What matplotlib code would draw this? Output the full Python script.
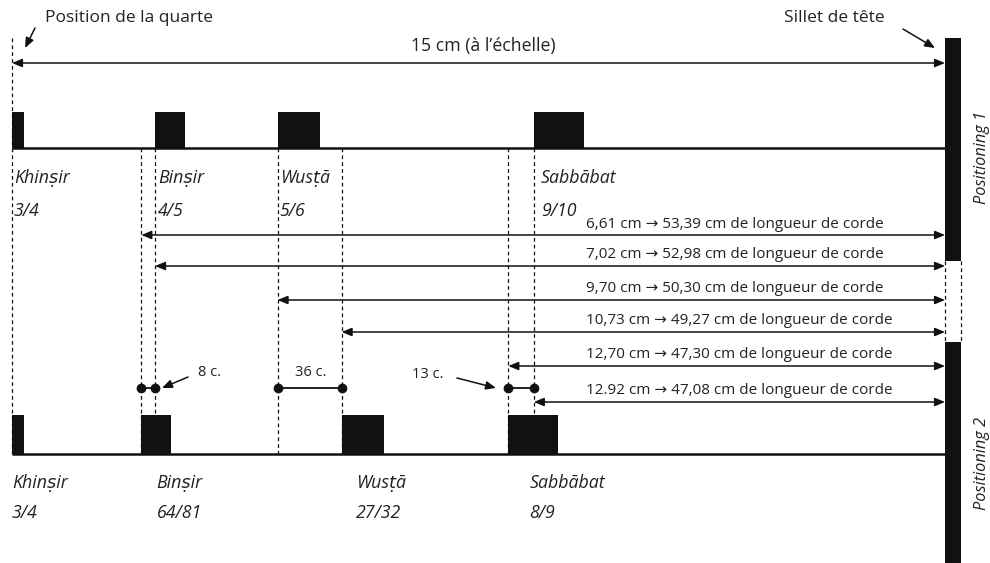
import matplotlib
matplotlib.use("Agg")
import matplotlib.pyplot as plt
from matplotlib.patches import Rectangle

# ---------------- data ----------------
scale_cm = 15.0                      # quarte position, measured from the nut
fret_names = ["Khinṣir", "Binṣir", "Wusṭā", "Sabbābat"]
pos1_ratios = ["3/4", "4/5", "5/6", "9/10"]
pos1_cm = [15.0, 12.70, 10.73, 6.61]
pos2_ratios = ["3/4", "64/81", "27/32", "8/9"]
pos2_cm = [15.0, 12.92, 9.70, 7.02]
dist_cm = [6.61, 7.02, 9.70, 10.73, 12.70, 12.92]
string_cm = [53.39, 52.98, 50.30, 49.27, 47.30, 47.08]
cents_labels = ["8 c.", "36 c.", "13 c."]
cents_pairs = [(12.92, 12.70), (10.73, 9.70), (7.02, 6.61)]

# ---------------- layout / style ----------------
PX_PER_CM = 62.2
NUT_PX = 945
W, H = 990, 563
fret_w_cm = [0.19, 0.48, 0.68, 0.80]
nut_w_cm = 0.26
INK = "#111111"
TXT = "#222222"
FAM = ["Open Sans", "DejaVu Sans"]
plt.rcParams["font.family"] = FAM


def cm(px):
    return (NUT_PX - px) / PX_PER_CM


fig = plt.figure(figsize=(W / 100, H / 100), dpi=100)
ax = fig.add_axes([0, 0, 1, 1])
ax.set_xlim(cm(0), cm(W))
ax.set_ylim(H, 0)
ax.axis("off")

STR1_Y, STR2_Y = 148, 454
BOX1_TOP, BOX2_TOP = 112, 415

# strings
ax.plot([scale_cm, 0], [STR1_Y, STR1_Y], color=INK, lw=1.8, solid_capstyle="butt", zorder=3)
ax.plot([scale_cm, 0], [STR2_Y, STR2_Y], color=INK, lw=1.8, solid_capstyle="butt", zorder=3)

# nut (sillet)
ax.add_patch(Rectangle((-nut_w_cm, 38), nut_w_cm, 261 - 38, color=INK, lw=0, zorder=4))
ax.add_patch(Rectangle((-nut_w_cm, 342), nut_w_cm, H - 342 + 5, color=INK, lw=0, zorder=4))
for xx in (0, -nut_w_cm):
    ax.plot([xx, xx], [261, 342], color=INK, lw=0.9, ls=(0, (3, 2.5)), zorder=2)

# dashed fret lines
all_pos = sorted(set(pos1_cm + pos2_cm), reverse=True)
for d in all_pos:
    y0 = 38 if d == scale_cm else STR1_Y
    ax.plot([d, d], [y0, STR2_Y], color=INK, lw=0.9, ls=(0, (3, 2.5)), zorder=1)

# fret boxes
for d, w in zip(pos1_cm, fret_w_cm):
    ax.add_patch(Rectangle((d - w, BOX1_TOP), w, STR1_Y - BOX1_TOP, color=INK, lw=0, zorder=4))
for d, w in zip(pos2_cm, fret_w_cm):
    ax.add_patch(Rectangle((d - w, BOX2_TOP), w, STR2_Y - BOX2_TOP, color=INK, lw=0, zorder=4))

LAB_FS = 12.8
# fret labels
lab1_off = [2, 3, 2, 7]
for d, n, r, o in zip(pos1_cm, fret_names, pos1_ratios, lab1_off):
    x = d - o / PX_PER_CM
    ax.text(x, 178, n, fontsize=LAB_FS, style="italic", color=TXT, ha="left", va="center", family=FAM)
    ax.text(x, 211, r, fontsize=LAB_FS, style="italic", color=TXT, ha="left", va="center", family=FAM)
lab2_off = [0, 15, 14, 21]
for d, n, r, o in zip(pos2_cm, fret_names, pos2_ratios, lab2_off):
    x = d - o / PX_PER_CM
    ax.text(x, 483, n, fontsize=LAB_FS, style="italic", color=TXT, ha="left", va="center", family=FAM)
    ax.text(x, 513, r, fontsize=LAB_FS, style="italic", color=TXT, ha="left", va="center", family=FAM)

AP = dict(arrowstyle="<|-|>,head_length=0.6,head_width=0.25", color=INK, lw=1.1,
          shrinkA=0, shrinkB=0, mutation_scale=10)
AP1 = dict(arrowstyle="-|>,head_length=0.6,head_width=0.25", color=INK, lw=1.1,
           shrinkA=0, shrinkB=0, mutation_scale=10)

# 15 cm scale arrow
ax.annotate("", xy=(0, 63), xytext=(scale_cm, 63), arrowprops=AP, zorder=5)
ax.text(cm(483), 46, "15 cm (à l’échelle)", fontsize=12.7, color=TXT, ha="center", va="center")

# distance arrows (drawn as in the reference: starts in reverse order)
arrow_y = [235, 266, 300, 332, 366, 402]
for d_lab, L, start, y in zip(dist_cm, string_cm, dist_cm[::-1], arrow_y):
    ax.annotate("", xy=(0, y), xytext=(start, y), arrowprops=AP, zorder=5)
    s = f"{d_lab:.2f}".replace(".", ",") + " cm → " + f"{L:.2f}".replace(".", ",") + " cm de longueur de corde"
    if d_lab == 12.92:
        s = "12.92 cm → " + f"{L:.2f}".replace(".", ",") + " cm de longueur de corde"
    ax.text(cm(586), y - 11, s, fontsize=11, color=TXT, ha="left", va="center")

# cents markers
DOT_Y = 388
for a, b in cents_pairs:
    ax.plot([a, b], [DOT_Y, DOT_Y], color=INK, lw=1.3, marker="o", ms=6, zorder=5)

ax.text(cm(198), 373, cents_labels[0], fontsize=10.5, color=TXT, ha="left", va="center")
ax.annotate("", xy=(cm(162), DOT_Y), xytext=(cm(188), 377), arrowprops=AP1)
ax.text(cm(311), 373, cents_labels[1], fontsize=10.5, color=TXT, ha="center", va="center")
ax.text(cm(444), 374, cents_labels[2], fontsize=10.5, color=TXT, ha="right", va="center")
ax.annotate("", xy=(cm(496), DOT_Y), xytext=(cm(457), 378), arrowprops=AP1)

# top annotations
ax.text(cm(45), 18, "Position de la quarte", fontsize=12.5, color=TXT, ha="left", va="center")
ax.annotate("", xy=(cm(25), 48), xytext=(cm(35), 28), arrowprops=AP1)
ax.text(cm(784), 18, "Sillet de tête", fontsize=12.5, color=TXT, ha="left", va="center")
ax.annotate("", xy=(cm(935), 48), xytext=(cm(903), 29), arrowprops=AP1)

# side labels
ax.text(cm(982), 158, "Positioning 1", fontsize=11.8, style="italic", color=TXT,
        rotation=90, ha="center", va="center")
ax.text(cm(982), 464, "Positioning 2", fontsize=11.8, style="italic", color=TXT,
        rotation=90, ha="center", va="center")

fig.savefig("out.png", dpi=100)
